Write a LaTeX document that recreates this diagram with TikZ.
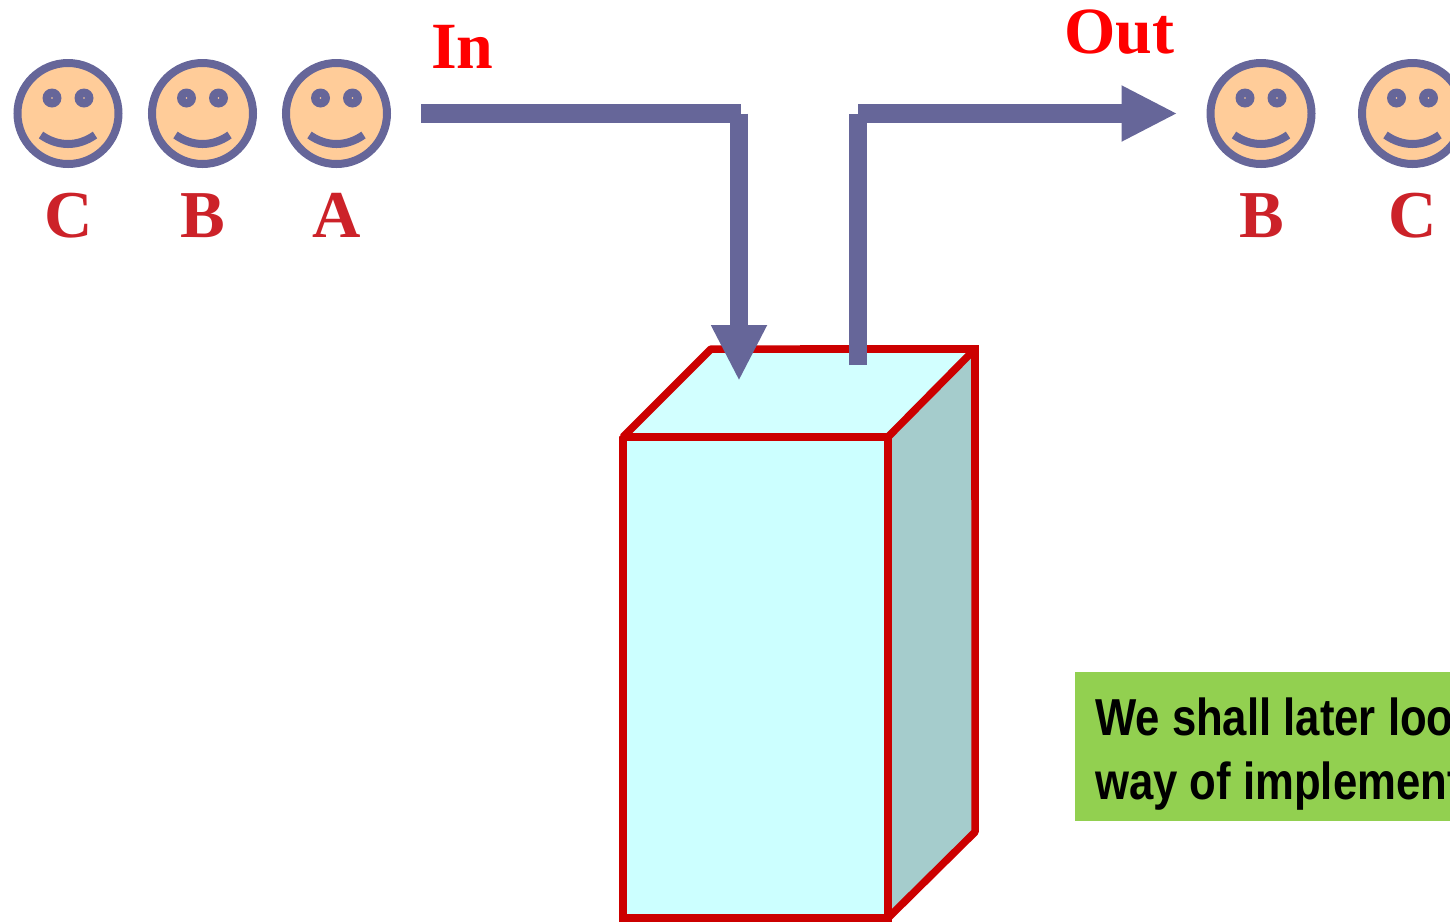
\documentclass[tikz,border=0pt]{standalone}
\usepackage{fontspec}
\setmainfont{Liberation Serif}
\newfontfamily\notefont{Liberation Sans}
\usetikzlibrary{arrows.meta}
\definecolor{flowc}{HTML}{666699}
\definecolor{facec}{HTML}{FFCC99}
\definecolor{labelc}{HTML}{CC2229}
\definecolor{boxred}{HTML}{CC0000}
\definecolor{frontc}{HTML}{CCFFFF}
\definecolor{topc}{HTML}{D2FFFF}
\definecolor{sidec}{HTML}{A5CCCC}
\definecolor{notec}{HTML}{92D050}
\tikzset{
  flow/.style={draw=flowc,line width=18.7pt,line cap=butt},
  flowhead/.style={flow,-{Triangle[length=56pt,width=52pt]}},
  boxface/.style={draw=boxred,line width=7.5pt,line join=bevel},
  boxedge/.style={draw=boxred,line width=7.5pt,line join=miter,miter limit=10},
  personlabel/.style={text=labelc,font=\bfseries\fontsize{67}{67}\selectfont,anchor=base,inner sep=0pt},
  flowlabel/.style={text=red,font=\bfseries\fontsize{66}{66}\selectfont,anchor=base,inner sep=0pt},
  notetext/.style={text=black,font=\notefont\bfseries\fontsize{52}{52}\selectfont,anchor=base west,inner sep=0pt,xscale=.84},
  smiley/.pic={
    \fill[facec,draw=flowc,line width=8pt] (0,0) circle (50.5);
    \fill[flowc] (-16,-15.5) circle (9.5);
    \fill[flowc] (16,-15.5) circle (9.5);
    \fill[facec] (-16,-15.5) circle (.8);
    \fill[facec] (16,-15.5) circle (.8);
    \draw[flowc,line width=8pt] (-27,21.5) .. controls (-10,33.5) and (10,33.5) .. (27,21.5);
  }
}
\begin{document}
\begin{tikzpicture}[x=1pt,y=-1pt]
\clip (0,0) rectangle (1450,922);
\useasboundingbox (0,0) rectangle (1450,922);
% people
\pic at (68,113.5) {smiley};
\pic at (202.5,113.5) {smiley};
\pic at (336.5,113.5) {smiley};
\pic at (1261,113.5) {smiley};
\pic at (1412.5,113.5) {smiley};
\node[personlabel] (lc) at (68.5,237) {C};
\node[personlabel] (lb) at (203,237) {B};
\node[personlabel] (la) at (337,237) {A};
\node[personlabel] (rb) at (1261.5,237) {B};
\node[personlabel] (rc) at (1412.5,237) {C};
% box
\fill[frontc] (623,437) rectangle (888,918);
\fill[topc] (623,437) -- (711,349) -- (975,349) -- (888,437) -- cycle;
\fill[sidec] (888,437) -- (975,349) -- (975,832) -- (888,918) -- cycle;
\path[boxface] (623,500) -- (623,437) -- (700,437);
\path[boxedge] (700,437) -- (888,437) -- (888,918) -- (623,918) -- (623,500);
\path[boxface] (623,437) -- (711,349) -- (800,349);
\path[boxedge] (800,349) -- (975,349) -- (975,500);
\path[boxface] (975,500) -- (975,832) -- (888,918) -- (888,800);
\path[boxface] (888,437) -- (975,349);
% connectors
\coordinate (inA) at (421,113.5);
\coordinate (inB) at (740.5,113.5);
\coordinate (inC) at (739,113.5);
\coordinate (inD) at (739,381);
\coordinate (outA) at (858,365);
\coordinate (outB) at (858,113.5);
\coordinate (outC) at (1177.5,113.5);
\coordinate (outD) at (858,113.5);
\draw[flow] (inA) -- (inB);
\draw[flowhead] (inC) -- (inD);
\draw[flow] (outA) -- (outB);
\draw[flowhead] (outD) -- (outC);
\node[flowlabel] (inl) at (462.5,68) {In};
\node[flowlabel] (outl) at (1119,53) {Out};
% note
\node[fill=notec,draw=none,inner sep=0pt,minimum width=375pt,minimum height=149pt,anchor=north west] (note) at (1075,672) {};
\node[notetext] (n1) at (1095,735.5) {We shall later loo};
\node[notetext] (n2) at (1095,799.5) {way of implement};
\end{tikzpicture}
\end{document}
